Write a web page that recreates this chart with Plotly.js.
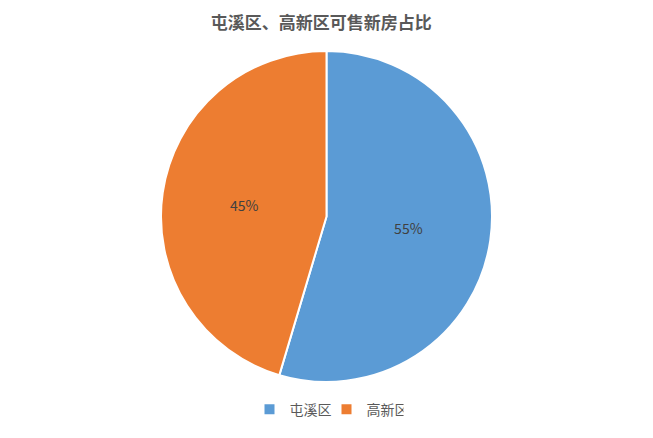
<!DOCTYPE html>
<html>
<head>
<meta charset="utf-8">
<script src="https://cdn.plot.ly/plotly-3.0.1.min.js"></script>
<style>html,body{margin:0;padding:0;background:#fff;}#chart{width:653px;height:438px;}</style>
</head>
<body>
<div id="chart"></div>
<script>
const categories = ['屯溪区', '高新区'];
const shares = [54.6, 45.4];
const colors = ['#5B9BD5', '#ED7D31'];
const chartTitle = '屯溪区、高新区可售新房占比';

const trace = {
  type: 'pie',
  labels: categories,
  values: shares,
  sort: false,
  direction: 'clockwise',
  rotation: 0,
  marker: {colors: colors, line: {color: '#ffffff', width: 2}},
  texttemplate: '%{percent:.0%}',
  textposition: 'inside',
  insidetextorientation: 'horizontal',
  textfont: {family: 'Noto Sans CJK SC, sans-serif', size: 14, color: '#404040'},
  hoverinfo: 'label+percent'
};

const layout = {
  width: 653, height: 438,
  margin: {l: 60, r: 60, t: 51, b: 53},
  paper_bgcolor: '#ffffff',
  title: {text: '<b>' + chartTitle + '</b>', x: 0.492, xanchor: 'center', y: 0.948, yanchor: 'middle',
    font: {family: 'Noto Sans CJK SC, sans-serif', size: 17, color: '#595959'}},
  showlegend: true,
  legend: {orientation: 'h', x: 0.5, xanchor: 'center', y: -0.035, yanchor: 'top',
    font: {family: 'Noto Sans CJK SC, sans-serif', size: 14, color: '#595959'},
    itemwidth: 30, entrywidth: 32, entrywidthmode: 'pixels', tracegroupgap: 0}
};

Plotly.newPlot('chart', [trace], layout, {displayModeBar: false, staticPlot: true});
</script>
</body>
</html>
